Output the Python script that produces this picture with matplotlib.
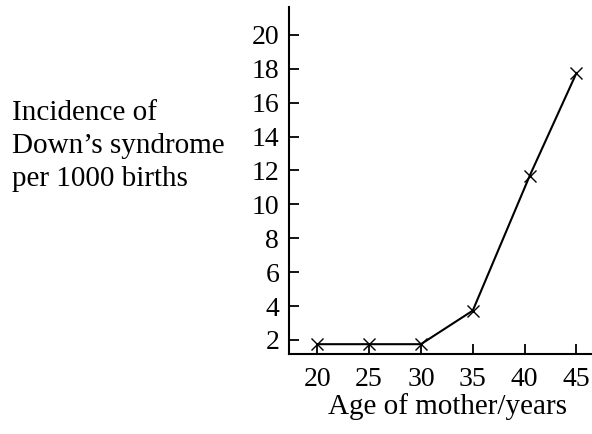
import numpy as np
import matplotlib
matplotlib.use('Agg')
import matplotlib.pyplot as plt

plt.rcParams['font.family'] = ['Liberation Serif', 'DejaVu Serif']

# data
age = [20, 25, 30, 35, 40.5, 45]
incidence = [1.75, 1.75, 1.75, 3.73, 11.7, 17.75]
xticks = [20, 25, 30, 35, 40, 45]
yticks = [2, 4, 6, 8, 10, 12, 14, 16, 18, 20]

fig = plt.figure(figsize=(5.92, 4.34), dpi=100)
ax = fig.add_axes([0.488, 0.1843, 0.512, 0.7997])

ax.plot(age, incidence, color='black', lw=1.5, marker='x', ms=8, mew=1.0)

ax.set_xlim(17.27, 46.5)
ax.set_ylim(1.17, 21.65)
ax.set_xticks(xticks)
ax.set_yticks(yticks)
ax.tick_params(direction='in', length=7, width=1.3, labelsize=20, pad=7)
ax.tick_params(axis='x', pad=9)
for s in ['top', 'right']:
    ax.spines[s].set_visible(False)
for s in ['left', 'bottom']:
    ax.spines[s].set_linewidth(1.5)

ax.set_xlabel('Age of mother/years', fontsize=21)
ax.xaxis.set_label_coords(0.523, -0.111)
fig.text(12 / 592, 1 - 146 / 434, 'Incidence of\nDown\u2019s syndrome\nper 1000 births',
         fontsize=21, ha='left', va='center', linespacing=1.35)

fig.savefig('out.png', dpi=100)
